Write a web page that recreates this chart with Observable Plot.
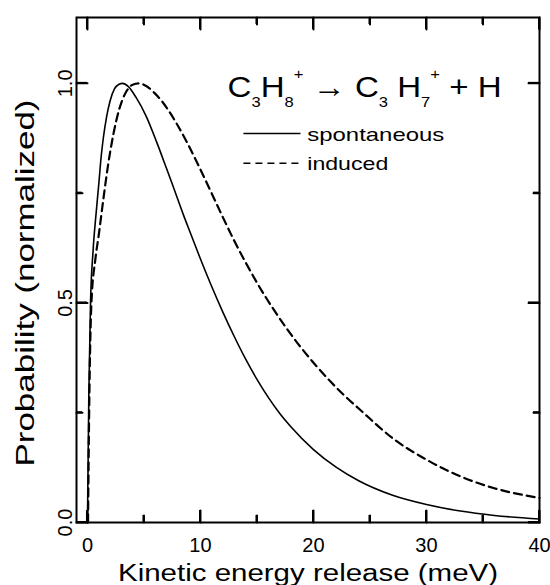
<!DOCTYPE html>
<html>
<head>
<meta charset="utf-8">
<script src="https://cdn.jsdelivr.net/npm/d3@7"></script>
<script src="https://cdn.jsdelivr.net/npm/@observablehq/plot@0.6"></script>
<style>
  html, body { margin: 0; padding: 0; background: #fff; }
  svg { display: block; }
</style>
</head>
<body>
<div id="chart"></div>
<script>
// ---- Data ----
const spontE = [0.0, 0.12, 0.27, 0.5, 0.75, 1.0, 1.2, 1.4, 1.7, 2.0, 2.4, 2.8, 3.1, 3.6, 4.3, 5.2, 6.1, 7.0, 7.6, 8.5, 9.1, 10.0, 10.9, 12.0, 13.0, 14.0, 15.0, 16.0, 17.0, 18.0, 20.0, 22.0, 24.0, 27.0, 30.0, 33.0, 36.0, 40.0];
const spontP = [0.0, 0.29, 0.5, 0.62, 0.70, 0.77, 0.83, 0.875, 0.925, 0.96, 0.988, 0.998, 1.0, 0.993, 0.968, 0.925, 0.868, 0.806, 0.764, 0.70, 0.66, 0.60, 0.543, 0.478, 0.423, 0.372, 0.326, 0.285, 0.249, 0.218, 0.166, 0.126, 0.095, 0.062, 0.041, 0.026, 0.016, 0.008];

const inducedE = [0.05, 0.15, 0.35, 0.7, 1.0, 1.4, 1.8, 2.3, 2.8, 3.45, 4.0, 4.55, 5.2, 5.9, 7.0, 7.9, 8.8, 9.6, 10.4, 11.2, 12.0, 13.0, 14.0, 15.0, 16.5, 18.6, 20.3, 22.7, 24.2, 27.1, 30.0, 33.0, 36.0, 40.0];
const inducedP = [0.0, 0.25, 0.5, 0.6, 0.655, 0.735, 0.81, 0.885, 0.94, 0.982, 0.997, 1.0, 0.994, 0.979, 0.945, 0.908, 0.866, 0.825, 0.782, 0.738, 0.694, 0.641, 0.592, 0.546, 0.484, 0.408, 0.355, 0.29, 0.255, 0.19, 0.143, 0.105, 0.078, 0.056];

const xMajor = [0, 10, 20, 30, 40];
const xMinor = [5, 15, 25, 35];
const xTickLabels = ["0", "10", "20", "30", "40"];
const yMajor = [0, 0.5, 1.0];
const yMinor = [0.25, 0.75];
const yTickLabels = ["0.0", "0.5", "1.0"];
const seriesNames = ["spontaneous", "induced"];
const xTitle = "Kinetic energy release (meV)";
const yTitle = "Probability (normalized)";
const reactionParts = [["C", ""], ["3", "sub"], ["H", ""], ["8", "sub"], ["+", "sup"], [" \u2192 C", ""], ["3", "sub"], [" H", ""], ["7", "sub"], ["+", "sup"], [" + H", ""]];

// ---- Build tables ----
const spont = spontE.map((e, i) => ({e, p: spontP[i]}));
const induced = inducedE.map((e, i) => ({e, p: inducedP[i]}));
const reactionPlain = reactionParts.map(d => d[0]).join("");

// ---- Layout ----
const W = 550, H = 585, mL = 76, mR = 11, mT = 17, mB = 63;
const xDomain = [-0.97, 40];
const yDomain = [0, 1.15];
const kx = (xDomain[1] - xDomain[0]) / (W - mL - mR);
const ky = (yDomain[1] - yDomain[0]) / (H - mT - mB);

// inward tick segments (two points each, grouped by id)
const tickSegs = [];
let tid = 0;
function addX(vals, len) {
  for (const v of vals) {
    tickSegs.push({x: v, y: yDomain[0], id: tid}, {x: v, y: yDomain[0] + len * ky, id: tid++});
    tickSegs.push({x: v, y: yDomain[1] - len * ky, id: tid}, {x: v, y: yDomain[1], id: tid++});
  }
}
function addY(vals, len) {
  for (const v of vals) {
    tickSegs.push({x: xDomain[0], y: v, id: tid}, {x: xDomain[0] + len * kx, y: v, id: tid++});
    tickSegs.push({x: xDomain[1] - len * kx, y: v, id: tid}, {x: xDomain[1], y: v, id: tid++});
  }
}
addX(xMajor, 12); addX(xMinor, 7); addY(yMajor, 11); addY(yMinor, 6);

// annotation placement (data units)
const legendLayout = {x1: 13.8, x2: 18.85, xText: 19.45, ySolid: 0.886, yDashed: 0.818};
const reactionAt = {x: 12.4, y: 0.968};

const font = "'Liberation Sans', Arial, Helvetica, sans-serif";

const chart = Plot.plot({
  width: W,
  height: H,
  marginLeft: mL,
  marginRight: mR,
  marginTop: mT,
  marginBottom: mB,
  style: {fontFamily: font, color: "black", background: "white", overflow: "visible"},
  x: {domain: xDomain},
  y: {domain: yDomain, axis: null},
  marks: [
    Plot.line(spont, {x: "e", y: "p", stroke: "black", strokeWidth: 1.6, curve: "monotone-x"}),
    Plot.line(induced, {x: "e", y: "p", stroke: "black", strokeWidth: 2.2, strokeDasharray: "8,5", curve: "monotone-x"}),
    Plot.frame({stroke: "black", strokeWidth: 2}),
    Plot.line(tickSegs, {x: "x", y: "y", z: "id", stroke: "black", strokeWidth: 2}),
    Plot.axisX(xMajor, {anchor: "bottom", tickSize: 0, tickPadding: 15, fontSize: 20, label: null,
      tickFormat: d => xTickLabels[xMajor.indexOf(d)]}),
    Plot.text(yMajor, {y: d => d, text: d => yTickLabels[yMajor.indexOf(d)], frameAnchor: "left",
      rotate: -90, dx: -5, lineAnchor: "bottom", textAnchor: "middle", fontSize: 20, fill: "black"}),
    Plot.text([xTitle], {text: d => d, frameAnchor: "bottom", dy: 58, lineAnchor: "bottom",
      textAnchor: "middle", fontSize: 23.5, fill: "black"}),
    Plot.text([yTitle], {text: d => d, frameAnchor: "left", rotate: -90, dx: -43, dy: 13,
      lineAnchor: "bottom", textAnchor: "middle", fontSize: 25, fill: "black"}),
    Plot.link([seriesNames[0]], {x1: () => legendLayout.x1, x2: () => legendLayout.x2,
      y1: () => legendLayout.ySolid, y2: () => legendLayout.ySolid, stroke: "black", strokeWidth: 1.5}),
    Plot.link([seriesNames[1]], {x1: () => legendLayout.x1, x2: () => legendLayout.x2,
      y1: () => legendLayout.yDashed, y2: () => legendLayout.yDashed, stroke: "black", strokeWidth: 1.6, strokeDasharray: "7,5"}),
    Plot.text(seriesNames, {x: () => legendLayout.xText,
      y: (d, i) => i === 0 ? legendLayout.ySolid : legendLayout.yDashed,
      text: d => d, textAnchor: "start", lineAnchor: "middle", dy: 1, fontSize: 19, fill: "black"}),
    Plot.text([reactionPlain], {x: () => reactionAt.x, y: () => reactionAt.y, text: d => d,
      textAnchor: "start", lineAnchor: "bottom", fontSize: 30, fill: "black"})
  ]
});

document.getElementById("chart").appendChild(chart);

const svg = d3.select(chart);

// ---- inward ticks also drawn through Plot's own scales (chart.scale) ----
(function () {
  const sx = chart.scale("x"), sy = chart.scale("y");
  const g = svg.append("g").attr("stroke", "black").attr("stroke-width", 2).attr("fill", "none");
  const X0 = sx.apply(xDomain[0]), X1 = sx.apply(xDomain[1]);
  const Y0 = sy.apply(yDomain[0]), Y1 = sy.apply(yDomain[1]);
  const seg = (x1, y1, x2, y2) => g.append("line").attr("x1", x1).attr("y1", y1).attr("x2", x2).attr("y2", y2);
  const xt = (vals, len) => vals.forEach(v => { const px = sx.apply(v); seg(px, Y0, px, Y0 - len); seg(px, Y1, px, Y1 + len); });
  const yt = (vals, len) => vals.forEach(v => { const py = sy.apply(v); seg(X0, py, X0 + len, py); seg(X1, py, X1 - len, py); });
  xt(xMajor, 12); xt(xMinor, 7); yt(yMajor, 11); yt(yMinor, 6);
})();

// ---- text styling: stretch to match reference lengths, sub/superscripts ----
function stretch(str, len) {
  svg.selectAll("text").filter(function () { return this.textContent === str; })
    .attr("textLength", len).attr("lengthAdjust", "spacingAndGlyphs");
}
stretch(xTitle, 380);
stretch(yTitle, 367);
stretch(seriesNames[0], 137);
stretch(seriesNames[1], 81);

svg.selectAll("text").filter(function () { return this.textContent === reactionPlain; })
  .each(function () {
    const t = d3.select(this);
    t.text(null);
    let cur = 0;
    for (const [s, kind] of reactionParts) {
      const target = kind === "sub" ? 10 : kind === "sup" ? -18 : 0;
      t.append("tspan")
        .attr("dy", target - cur)
        .attr("font-size", kind ? 15 : 30)
        .text(s);
      cur = target;
    }
    t.attr("textLength", 274).attr("lengthAdjust", "spacingAndGlyphs");
  });
</script>
</body>
</html>
